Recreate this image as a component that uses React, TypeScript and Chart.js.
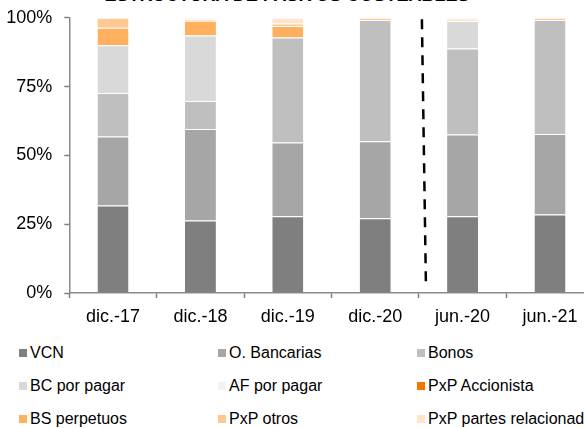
import React, { useEffect, useRef } from "react";
import { Chart, registerables } from "chart.js";

Chart.register(...registerables);

// Periods shown on the x axis
const periods = ["dic.-17", "dic.-18", "dic.-19", "dic.-20", "jun.-20", "jun.-21"];

// Share of each liability type per period (%)
const vcn = [31.8, 26.3, 27.9, 27.2, 27.9, 28.5];
const oBancarias = [25.1, 33.3, 26.8, 27.9, 29.7, 29.3];
const bonos = [15.8, 10.2, 38.1, 44.1, 31.2, 41.4];
const bcPorPagar = [17.3, 23.8, 0, 0, 10.0, 0];
const afPorPagar = [0, 0, 0, 0, 0, 0];
const pxpAccionista = [0, 0, 0, 0, 0, 0];
const bsPerpetuos = [6.4, 5.3, 4.2, 0, 0, 0];
const pxpOtros = [3.6, 0.6, 0.9, 0.8, 0.5, 0.8];
const pxpPartes = [0, 0.5, 2.1, 0, 0.7, 0];

const yTicks = [0, 25, 50, 75, 100];

const FONT = 'Arial, "Liberation Sans", sans-serif';

const series = [
  { label: "VCN", data: vcn, color: "#7f7f7f" },
  { label: "O. Bancarias", data: oBancarias, color: "#a6a6a6" },
  { label: "Bonos", data: bonos, color: "#bfbfbf" },
  { label: "BC por pagar", data: bcPorPagar, color: "#d9d9d9" },
  { label: "AF por pagar", data: afPorPagar, color: "#f2f2f2" },
  { label: "PxP Accionista", data: pxpAccionista, color: "#f07800" },
  { label: "BS perpetuos", data: bsPerpetuos, color: "#ffb05e" },
  { label: "PxP otros", data: pxpOtros, color: "#ffc892" },
  { label: "PxP partes relacionadas", data: pxpPartes, color: "#ffe4cc" },
];

// Dashed separator between the year-end and mid-year periods
const separatorPlugin = {
  id: "separator",
  afterDatasetsDraw(chart: any) {
    const xs = chart.scales.x;
    const ys = chart.scales.y;
    const mid = (xs.getPixelForValue(3) + xs.getPixelForValue(4)) / 2;
    const ctx = chart.ctx;
    ctx.save();
    ctx.strokeStyle = "#000000";
    ctx.lineWidth = 2.5;
    ctx.setLineDash([10, 8]);
    ctx.beginPath();
    ctx.moveTo(mid + 3, ys.getPixelForValue(99.5));
    ctx.lineTo(mid + 7, ys.getPixelForValue(3.5));
    ctx.stroke();
    ctx.restore();
  },
};

const CANVAS_TOP = -5.3;
const CANVAS_H = 346;

export default function App() {
  const canvasRef = useRef<HTMLCanvasElement | null>(null);

  useEffect(() => {
    if (!canvasRef.current) return;
    const chart = new Chart(canvasRef.current, {
      type: "bar",
      data: {
        labels: periods,
        datasets: series.map((s) => ({
          label: s.label,
          data: s.data,
          backgroundColor: s.color,
          borderColor: "rgba(255,255,255,0.7)",
          borderWidth: { top: 1, bottom: 0, left: 0, right: 0 },
          borderSkipped: false,
          categoryPercentage: 1,
          barPercentage: 0.355,
        })),
      },
      options: {
        animation: false,
        responsive: false,
        maintainAspectRatio: false,
        layout: { padding: { top: 11.4, right: 26.3, bottom: 0, left: 0 } },
        plugins: {
          legend: { display: false },
          title: { display: false },
          tooltip: { enabled: false },
        },
        scales: {
          x: {
            stacked: true,
            grid: {
              display: true,
              drawOnChartArea: false,
              drawTicks: true,
              tickLength: 5,
              tickColor: "#808080",
              tickWidth: 1.5,
              offset: true,
            },
            border: { display: true, color: "#8a8a8a", width: 1.5 },
            ticks: {
              color: "#000000",
              font: { family: FONT, size: 18 },
              padding: 8,
              maxRotation: 0,
            },
            afterFit(scale: any) {
              scale.height = CANVAS_H + CANVAS_TOP - 292.7;
            },
          },
          y: {
            stacked: true,
            min: 0,
            max: 100,
            afterBuildTicks(scale: any) {
              scale.ticks = yTicks.map((v) => ({ value: v }));
            },
            grid: {
              display: true,
              drawOnChartArea: false,
              drawTicks: true,
              tickLength: 5,
              tickColor: "#808080",
              tickWidth: 1.5,
            },
            border: { display: true, color: "#8a8a8a", width: 1.5 },
            ticks: {
              color: "#000000",
              font: { family: FONT, size: 18 },
              padding: 12,
              callback: (v: any) => `${v}%`,
            },
            afterFit(scale: any) {
              scale.width = 69.3;
            },
          },
        },
      },
      plugins: [separatorPlugin],
    });
    return () => chart.destroy();
  }, []);

  const columns = [19, 218, 417];
  const rows = [353, 386, 419];

  return (
    <div
      style={{
        position: "fixed",
        left: 0,
        top: 0,
        width: 584,
        height: 428,
        overflow: "hidden",
        background: "#ffffff",
        fontFamily: FONT,
      }}
    >
      <div
        style={{
          position: "absolute",
          left: 0,
          width: 574,
          top: -13.8,
          textAlign: "center",
          fontWeight: "bold",
          fontSize: 18,
          lineHeight: "18px",
          color: "#000000",
          whiteSpace: "nowrap",
        }}
      >
        ESTRUCTURA DE PASIVOS COSTEABLES
      </div>
      <canvas
        ref={canvasRef}
        width={620}
        height={CANVAS_H}
        style={{ position: "absolute", left: 0, top: CANVAS_TOP, width: 620, height: CANVAS_H }}
      />
      {series.map((s, i) => {
        const col = i % 3;
        const row = Math.floor(i / 3);
        return (
          <div
            key={s.label}
            style={{
              position: "absolute",
              left: columns[col],
              top: rows[row] - 10,
              height: 20,
              display: "flex",
              alignItems: "center",
              whiteSpace: "nowrap",
              fontSize: 16,
              color: "#000000",
            }}
          >
            <span
              style={{
                display: "inline-block",
                width: 8,
                height: 8,
                background: s.color,
                marginRight: 3,
              }}
            />
            <span>{s.label}</span>
          </div>
        );
      })}
    </div>
  );
}
